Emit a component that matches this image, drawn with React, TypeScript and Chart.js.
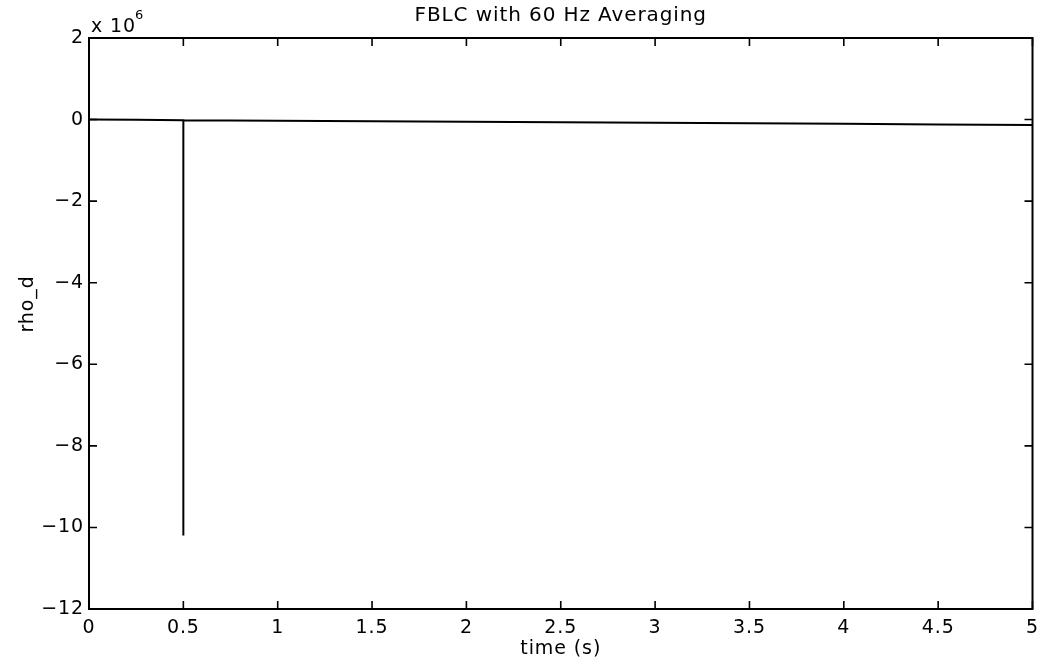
import React, { useEffect, useRef } from "react";
import { Chart, registerables } from "chart.js";

Chart.register(...registerables);

// time (s) and rho_d values
const timeValues = [0, 0.25, 0.5, 0.5, 0.5, 1, 1.5, 2, 2.5, 3, 3.5, 4, 4.5, 5];
const rhoValues = [0, -7000, -15000, -10200000, -15000, -30000, -42000, -55000, -68000, -80000, -93000, -105000, -120000, -135000];

const xTicks = [0, 0.5, 1, 1.5, 2, 2.5, 3, 3.5, 4, 4.5, 5];
const yTicks = [2e6, 0, -2e6, -4e6, -6e6, -8e6, -10e6, -12e6];

const titleText = "FBLC with 60 Hz Averaging";
const xLabel = "time (s)";
const yLabel = "rho_d";
const FONT = "'DejaVu Sans', 'Liberation Sans', Arial, sans-serif";
const LS = "0.9px";

const spacing = {
  id: "spacing",
  beforeInit(chart: any) {
    chart.ctx.letterSpacing = LS;
  },
  beforeLayout(chart: any) {
    chart.ctx.letterSpacing = LS;
  },
  beforeDraw(chart: any) {
    chart.ctx.letterSpacing = LS;
  },
};

const frame = {
  id: "frame",
  afterDraw(chart: any) {
    const { ctx, chartArea: a, scales } = chart;
    const xs = scales.x;
    const ys = scales.y;
    ctx.save();
    ctx.strokeStyle = "#000";
    ctx.lineWidth = 2;
    ctx.strokeRect(a.left, a.top, a.right - a.left, a.bottom - a.top);
    ctx.lineWidth = 1.6;
    const tl = 8;
    ctx.beginPath();
    xTicks.forEach((v) => {
      const px = xs.getPixelForValue(v);
      ctx.moveTo(px, a.bottom);
      ctx.lineTo(px, a.bottom - tl);
      ctx.moveTo(px, a.top);
      ctx.lineTo(px, a.top + tl);
    });
    yTicks.forEach((v) => {
      const py = ys.getPixelForValue(v);
      ctx.moveTo(a.left, py);
      ctx.lineTo(a.left + tl, py);
      ctx.moveTo(a.right, py);
      ctx.lineTo(a.right - tl, py);
    });
    ctx.stroke();
    ctx.fillStyle = "#000";
    ctx.letterSpacing = LS;
    // exponent label
    ctx.textBaseline = "alphabetic";
    ctx.textAlign = "left";
    ctx.font = `19px ${FONT}`;
    ctx.fillText("x 10", a.left + 2, a.top - 6);
    const w = ctx.measureText("x 10").width;
    ctx.font = `13px ${FONT}`;
    ctx.fillText("6", a.left + 1 + w, a.top - 19);
    // y axis label
    ctx.save();
    ctx.translate(28, 304);
    ctx.rotate(-Math.PI / 2);
    ctx.textAlign = "center";
    ctx.textBaseline = "middle";
    ctx.font = `19px ${FONT}`;
    ctx.fillText(yLabel, 0, 0);
    ctx.restore();
    ctx.restore();
  },
};

export default function App() {
  const ref = useRef<HTMLCanvasElement | null>(null);
  useEffect(() => {
    document.body.style.margin = "0";
    const canvas = ref.current;
    if (!canvas) return;
    const data = timeValues.map((t, i) => ({ x: t, y: rhoValues[i] }));
    const chart = new Chart(canvas, {
      type: "scatter",
      data: {
        datasets: [
          {
            data,
            showLine: true,
            borderColor: "#000",
            borderWidth: 2,
            pointRadius: 0,
            fill: false,
          },
        ],
      },
      options: {
        animation: false,
        responsive: false,
        maintainAspectRatio: false,
        layout: { padding: { left: 0, right: 11, top: 0, bottom: 0 } },
        plugins: {
          legend: { display: false },
          tooltip: { enabled: false },
          title: {
            display: true,
            text: titleText,
            fullSize: false,
            color: "#000",
            font: { family: FONT, size: 20, weight: "normal" },
            padding: { top: 4, bottom: 10 },
          },
        },
        scales: {
          x: {
            type: "linear",
            min: 0,
            max: 5,
            afterBuildTicks: (s: any) => {
              s.ticks = xTicks.map((v) => ({ value: v }));
            },
            afterFit: (s: any) => {
              s.height = 55;
            },
            grid: { display: false, drawTicks: false },
            border: { display: false },
            ticks: {
              color: "#000",
              padding: 8,
              maxRotation: 0,
              autoSkip: false,
              font: { family: FONT, size: 19 },
              callback: (v: any) => String(v),
            },
            title: {
              display: true,
              text: xLabel,
              color: "#000",
              font: { family: FONT, size: 19 },
              padding: { top: 0, bottom: 4 },
            },
          },
          y: {
            type: "linear",
            min: -12e6,
            max: 2e6,
            afterBuildTicks: (s: any) => {
              s.ticks = yTicks.map((v) => ({ value: v }));
            },
            afterFit: (s: any) => {
              s.width = 89;
            },
            grid: { display: false, drawTicks: false },
            border: { display: false },
            ticks: {
              color: "#000",
              padding: 5,
              autoSkip: false,
              font: { family: FONT, size: 19 },
              callback: (v: any) => {
                const n = Math.round(Number(v) / 1e6);
                return n < 0 ? "\u2212" + Math.abs(n) : String(n);
              },
            },
            title: { display: false, text: yLabel },
          },
        },
      },
      plugins: [spacing, frame],
    });
    return () => chart.destroy();
  }, []);
  return (
    <div style={{ width: 1047, height: 664, background: "#fff" }}>
      <canvas ref={ref} width={1047} height={664} style={{ display: "block" }} />
    </div>
  );
}
